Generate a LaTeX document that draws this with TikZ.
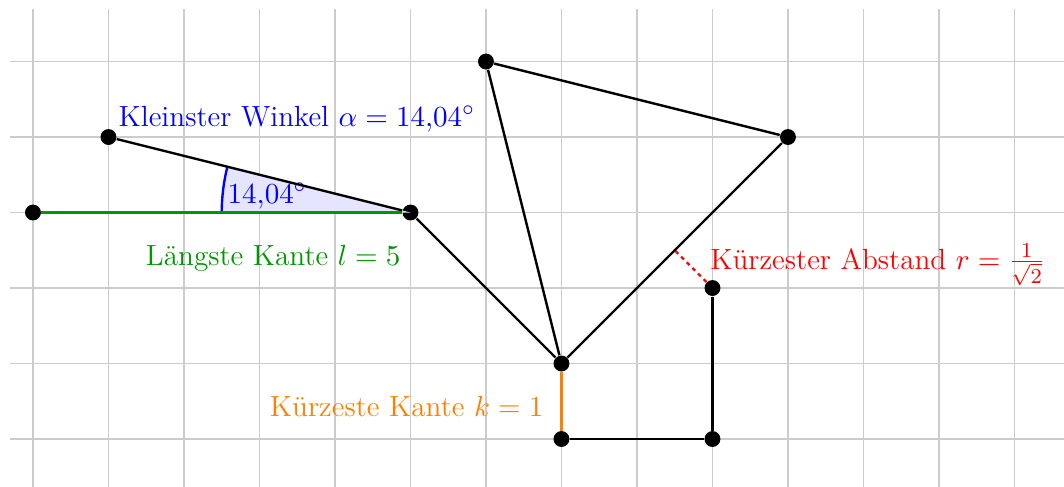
\documentclass[tikz,border=0pt]{standalone}
\usetikzlibrary{positioning,calc}
\definecolor{kantegreen}{RGB}{0,150,0}
\definecolor{kanteorange}{RGB}{255,128,0}

\begin{document}
\begin{tikzpicture}[pt/.style={circle, fill=black, inner sep=0pt, minimum size=6pt},
                    edge/.style={line width=0.9pt},
                    every node/.style={font=\fontsize{11pt}{13pt}\selectfont}]
  \useasboundingbox (-0.437,-0.623) rectangle (13.656,5.815);
  \draw[gray!40, line width=0.4pt] (-0.3,-0.7) grid (13.7,5.7);

  \node[pt] (a) at (0,3) {};
  \node[pt] (b) at (1,4) {};
  \node[pt] (c) at (5,3) {};
  \node[pt] (d) at (6,5) {};
  \node[pt] (e) at (10,4) {};
  \node[pt] (f) at (7,1) {};
  \node[pt] (g) at (7,0) {};
  \node[pt] (h) at (9,0) {};
  \node[pt] (i) at (9,2) {};
  \coordinate (lot) at ($(f)!(i)!(e)$);

  % kleinster winkel
  \fill[blue!10] (c.center) -- ++(180:2.5) arc (180:165.96:2.5) -- cycle;
  \draw[blue, edge] ($(c.center)+(180:2.5)$) arc (180:165.96:2.5);
  \node[blue, anchor=base west] (wl) at (2.454,3.126) {$14{,}04^\circ$};

  \draw[edge, kantegreen] (a) -- (c);
  \draw[edge] (b) -- (c);
  \draw[edge] (c) -- (f);
  \draw[edge] (f) -- (d);
  \draw[edge] (d) -- (e);
  \draw[edge] (e) -- (f);
  \draw[edge, kanteorange] (f) -- (g);
  \draw[edge] (g) -- (h);
  \draw[edge] (h) -- (i);
  \draw[edge, red, dash pattern=on 1.5pt off 1.5pt] (i) -- (lot);

  \node[blue, anchor=base west] (kw) at (1.01,4.145) {Kleinster Winkel $\alpha = 14{,}04^\circ$};
  \node[kantegreen, anchor=base east] (lk) at (4.99,2.30) {Längste Kante $l = 5$};
  \node[kanteorange, anchor=base east] (kk) at (6.885,0.295) {Kürzeste Kante $k = 1$};
  \node[red, anchor=base west] (ka) at (8.847,2.25) {Kürzester Abstand $r = \frac{1}{\sqrt{2}}$};
\end{tikzpicture}
\end{document}
